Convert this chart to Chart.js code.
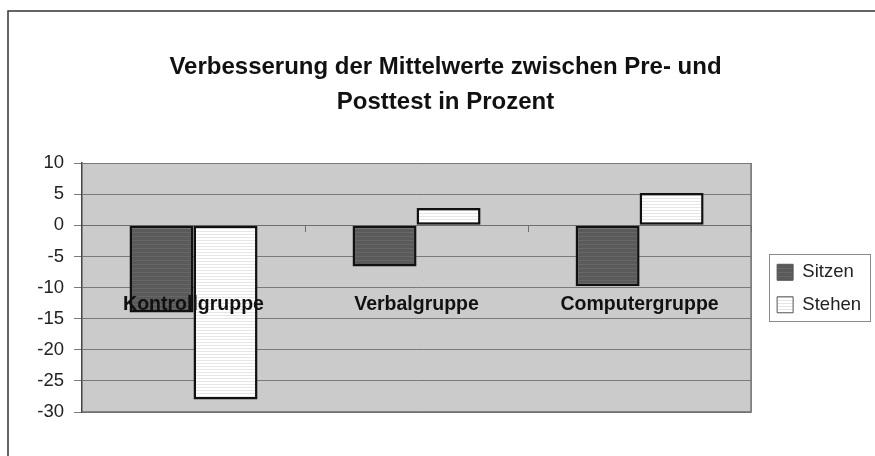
<!DOCTYPE html>
<html>
<head>
<meta charset="utf-8">
<script src="https://cdn.jsdelivr.net/npm/chart.js@4.4.1/dist/chart.umd.min.js"></script>
<style>
  html, body { margin: 0; padding: 0; background: #fff; }
  #wrap { width: 875px; height: 456px; }
</style>
</head>
<body>
<div id="wrap"><canvas id="chart" width="875" height="456"></canvas></div>
<script>
const categories = ['Kontrollgruppe', 'Verbalgruppe', 'Computergruppe'];
const sitzen = [-14, -6.6, -9.8];
const stehen = [-28, 2.8, 5.2];
const titleLines = ['Verbesserung der Mittelwerte zwischen Pre- und', 'Posttest in Prozent'];
const yMin = -30;
const yMax = 10;
const yStep = 5;

const FONT = "'Liberation Sans', Arial, Helvetica, sans-serif";

function stripes(base, line, step) {
  const c = document.createElement('canvas');
  c.width = 4;
  c.height = step;
  const g = c.getContext('2d');
  g.fillStyle = base;
  g.fillRect(0, 0, 4, step);
  g.fillStyle = line;
  g.fillRect(0, 0, 4, 1);
  return g.createPattern(c, 'repeat');
}

// outer frame, grey plot area and its right edge
const backdrop = {
  id: 'backdrop',
  beforeDraw(chart) {
    const { ctx, chartArea: a } = chart;
    ctx.save();
    ctx.strokeStyle = '#333';
    ctx.lineWidth = 1.5;
    ctx.beginPath();
    ctx.moveTo(8, chart.height);
    ctx.lineTo(8, 11);
    ctx.lineTo(chart.width, 11);
    ctx.stroke();
    ctx.fillStyle = '#cbcbcb';
    ctx.fillRect(a.left, a.top, a.right - a.left, a.bottom - a.top);
    ctx.restore();
  },
  beforeDatasetsDraw(chart) {
    const { ctx, chartArea: a } = chart;
    ctx.save();
    ctx.strokeStyle = '#6e6e6e';
    ctx.lineWidth = 1.5;
    ctx.beginPath();
    ctx.moveTo(a.right, a.top);
    ctx.lineTo(a.right, a.bottom);
    ctx.lineTo(a.left, a.bottom);
    ctx.stroke();
    ctx.restore();
  }
};

// move title / legend a bit (the original is not centred on the canvas) and box the legend
const legendBox = {
  id: 'legendBox',
  afterLayout(chart) {
    const lg = chart.legend;
    const a = chart.chartArea;
    const h = lg.bottom - lg.top;
    const mid = (a.top + a.bottom) / 2 + 1;
    lg.left += 12;
    lg.right += 12;
    lg.top = mid - h / 2;
    lg.bottom = lg.top + h;
    chart.titleBlock.left += 12;
    chart.titleBlock.right += 12;
  },
  afterDraw(chart) {
    const boxes = chart.legend.legendHitBoxes;
    if (!boxes || !boxes.length) return;
    const left = Math.min(...boxes.map(b => b.left)) - 8;
    const right = Math.max(...boxes.map(b => b.left + b.width)) + 9;
    const top = boxes[0].top - 9;
    const bottom = boxes[boxes.length - 1].top + boxes[boxes.length - 1].height + 7;
    const { ctx } = chart;
    ctx.save();
    ctx.strokeStyle = '#8a8a8a';
    ctx.lineWidth = 1;
    ctx.strokeRect(Math.round(left) + 0.5, Math.round(top) + 0.5, Math.round(right - left), Math.round(bottom - top));
    ctx.restore();
  }
};

const ctx = document.getElementById('chart').getContext('2d');

new Chart(ctx, {
  type: 'bar',
  data: {
    labels: categories,
    datasets: [
      {
        label: 'Sitzen',
        data: sitzen,
        backgroundColor: stripes('#5a5a5a', '#666666', 4),
        borderColor: '#111',
        borderWidth: 2.5,
        borderSkipped: false,
        categoryPercentage: 0.574,
        barPercentage: 1
      },
      {
        label: 'Stehen',
        data: stehen,
        backgroundColor: stripes('#ffffff', '#e6e6e6', 3),
        borderColor: '#111',
        borderWidth: 2.5,
        borderSkipped: false,
        categoryPercentage: 0.574,
        barPercentage: 1
      }
    ]
  },
  options: {
    responsive: false,
    animation: false,
    layout: { padding: { left: 8, right: 16, top: 0, bottom: 44 } },
    plugins: {
      tooltip: { enabled: false },
      title: {
        display: true,
        text: titleLines,
        color: '#111',
        font: { family: FONT, size: 24, weight: 'bold', lineHeight: 1.46 },
        padding: { top: 50, bottom: 43 }
      },
      legend: {
        position: 'right',
        labels: {
          color: '#222',
          font: { family: FONT, size: 18.5 },
          boxWidth: 16,
          boxHeight: 16,
          padding: 14,
          generateLabels(chart) {
            return Chart.defaults.plugins.legend.labels.generateLabels(chart).map(l => {
              l.lineWidth = 1;
              l.strokeStyle = '#555';
              return l;
            });
          }
        }
      }
    },
    scales: {
      x: {
        type: 'category',
        position: { y: 0 },
        offset: true,
        grid: {
          display: true,
          drawOnChartArea: false,
          drawTicks: true,
          tickLength: 6,
          color: '#6e6e6e',
          offset: true
        },
        border: { display: true, color: '#6e6e6e', width: 1 },
        ticks: {
          z: 1,
          color: '#111',
          padding: 62,
          maxRotation: 0,
          autoSkip: false,
          font: { family: FONT, size: 19.5, weight: 'bold' }
        }
      },
      y: {
        min: yMin,
        max: yMax,
        afterFit(scale) { scale.width = 74; },
        grid: {
          color: '#7a7a7a',
          lineWidth: 1,
          tickLength: 8,
          drawTicks: true
        },
        border: { display: true, color: '#444', width: 1.5 },
        ticks: {
          stepSize: yStep,
          color: '#222',
          padding: 10,
          font: { family: FONT, size: 18.5 }
        }
      }
    }
  },
  plugins: [backdrop, legendBox]
});
</script>
</body>
</html>
